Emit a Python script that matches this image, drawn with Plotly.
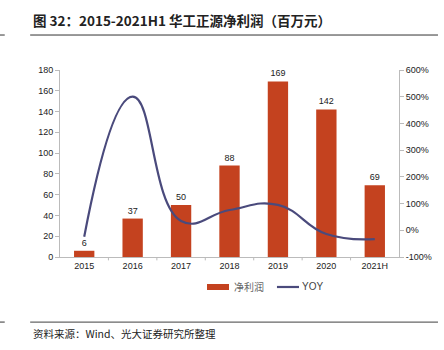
import plotly.graph_objects as go

categories = ["2015", "2016", "2017", "2018", "2019", "2020", "2021H"]
net_profit = [6, 37, 50, 88, 169, 142, 69]
yoy = [-24, 500, 35, 76, 95, -14, -33]
left_ticks = [0, 20, 40, 60, 80, 100, 120, 140, 160, 180]
right_ticks = [-100, 0, 100, 200, 300, 400, 500, 600]
right_tick_labels = ["-100%", "0%", "100%", "200%", "300%", "400%", "500%", "600%"]

BAR = "#C4421F"
LINE = "#4A4A7C"
AX = "#BBBBBB"
FONT = "Liberation Sans, Arial, sans-serif"
CJK = "Noto Sans CJK SC, sans-serif"

fig = go.Figure()
fig.add_trace(go.Bar(
    x=categories, y=net_profit, name="净利润",
    marker=dict(color=BAR, line=dict(width=0)),
    width=0.42,
    text=[str(v) for v in net_profit], textposition="outside",
    textfont=dict(size=9, color="#222222", family=FONT),
    cliponaxis=False,
))
fig.add_trace(go.Scatter(
    x=categories, y=yoy, name="YOY", yaxis="y2",
    mode="lines", line=dict(color=LINE, width=2.2, shape="spline", smoothing=1.3),
))

fig.update_layout(
    width=444, height=350,
    margin=dict(l=60, r=45, t=70, b=93),
    plot_bgcolor="white", paper_bgcolor="white",
    font=dict(family=FONT, size=9, color="#222222"),
    showlegend=False,
    xaxis=dict(
        type="category", showgrid=False, showline=True, linecolor=AX, linewidth=1,
        ticks="", tickfont=dict(size=9, color="#222222"),
    ),
    yaxis=dict(
        range=[0, 180], tickvals=left_ticks, showgrid=False, zeroline=False,
        showline=True, linecolor=AX, linewidth=1, ticks="outside", ticklen=4,
        tickcolor=AX, tickfont=dict(size=9, color="#222222"),
    ),
    yaxis2=dict(
        range=[-100, 600], tickvals=right_ticks, ticktext=right_tick_labels,
        overlaying="y", side="right", showgrid=False, zeroline=False,
        showline=True, linecolor=AX, linewidth=1, ticks="outside", ticklen=4,
        tickcolor=AX, tickfont=dict(size=9, color="#222222"),
    ),
)

shapes = []
# category separator ticks on x axis
for i in range(1, len(categories)):
    shapes.append(dict(type="line", xref="x", yref="paper", x0=i - 0.5, x1=i - 0.5,
                       y0=0, y1=-0.018, line=dict(color=AX, width=1)))
# title underline and footer line
shapes.append(dict(type="line", xref="paper", yref="paper", x0=-0.088, x1=1.115,
                   y0=1.187, y1=1.187, line=dict(color="#333333", width=1)))
shapes.append(dict(type="line", xref="paper", yref="paper", x0=-0.177, x1=-0.163,
                   y0=1.187, y1=1.187, line=dict(color="#333333", width=1)))
shapes.append(dict(type="line", xref="paper", yref="paper", x0=-0.088, x1=1.115,
                   y0=-0.348, y1=-0.348, line=dict(color="#666666", width=1.2)))
shapes.append(dict(type="line", xref="paper", yref="paper", x0=-0.177, x1=-0.163,
                   y0=-0.348, y1=-0.348, line=dict(color="#333333", width=1)))
# custom legend swatches
shapes.append(dict(type="rect", xref="paper", yref="paper", x0=0.4336, x1=0.4985,
                   y0=-0.1765, y1=-0.1444, fillcolor=BAR, line=dict(width=0)))
shapes.append(dict(type="line", xref="paper", yref="paper", x0=0.640, x1=0.705,
                   y0=-0.1604, y1=-0.1604, line=dict(color=LINE, width=2.2)))
fig.update_layout(shapes=shapes)

fig.add_annotation(xref="paper", yref="paper", x=0.508, y=-0.1604, xanchor="left",
                   yanchor="middle", text="净利润", showarrow=False,
                   font=dict(size=10, color="#666666", family=CJK))
fig.add_annotation(xref="paper", yref="paper", x=0.708, y=-0.1604, xanchor="left",
                   yanchor="middle", text="YOY", showarrow=False,
                   font=dict(size=10, color="#444444", family=FONT))

fig.add_annotation(
    xref="paper", yref="paper", x=-0.085, y=1.205, xanchor="left", yanchor="bottom",
    text="<b>图 32：2015-2021H1 华工正源净利润（百万元）</b>", showarrow=False,
    font=dict(size=13.5, color="#222222", family=CJK),
)
fig.add_annotation(
    xref="paper", yref="paper", x=-0.085, y=-0.36, xanchor="left", yanchor="top",
    text="资料来源：Wind、光大证券研究所整理", showarrow=False,
    font=dict(size=10.5, color="#222222", family=CJK),
)

fig.write_html("out.html")
